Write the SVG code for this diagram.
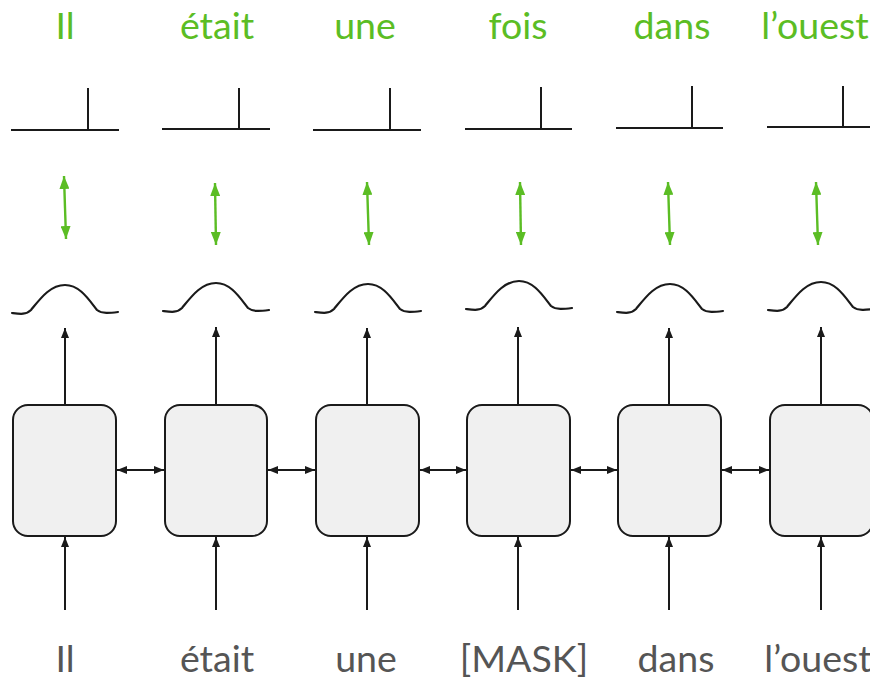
<svg xmlns="http://www.w3.org/2000/svg" width="870" height="679" viewBox="0 0 870 679">
  <style>
    .out { font-family: Lato, "Open Sans", sans-serif; font-size: 37.5px; fill: #5bbd24; text-anchor: middle; }
    .in { font-family: Lato, "Open Sans", sans-serif; font-size: 37.5px; fill: #555555; text-anchor: middle; }
    .cell { fill: #f0f0f0; stroke: #1a1a1a; stroke-width: 2; }
    .wire { stroke: #1a1a1a; stroke-width: 2; fill: none; }
    .step { stroke: #1a1a1a; stroke-width: 2; fill: none; }
    .curve { stroke: #1a1a1a; stroke-width: 2.2; fill: none; stroke-linecap: round; }
    .match { stroke: #5bbd24; stroke-width: 2.4; fill: none; }
  </style>
  <defs>
    <marker id="head" viewBox="0 0 10 10" refX="10" refY="5" markerWidth="10" markerHeight="10" markerUnits="userSpaceOnUse" orient="auto-start-reverse">
      <path d="M0,1 L10,5 L0,9 Z" fill="#1a1a1a"/>
    </marker>
    <marker id="ghead" viewBox="0 0 13 10" refX="13" refY="5" markerWidth="13" markerHeight="10" markerUnits="userSpaceOnUse" orient="auto-start-reverse">
      <path d="M0,0 L13,5 L0,10 Z" fill="#5bbd24"/>
    </marker>
    <path id="bump" d="M-53,0 C-45,1 -39,2 -34,-3 C-25,-14 -15,-28 0,-28 C15,-28 24,-13 32,-3 C37,1 45,0 53,-1"/>
  </defs>

  <!-- predicted tokens -->
  <g id="outputs">
    <text class="out" x="65" y="39">Il</text>
    <text class="out" x="217" y="39">était</text>
    <text class="out" x="365" y="39">une</text>
    <text class="out" x="518" y="39">fois</text>
    <text class="out" x="672" y="39">dans</text>
    <text class="out" x="815" y="39">l’ouest</text>
  </g>

  <!-- one-hot targets -->
  <g id="targets">
    <path class="step" d="M11,130 H119 M88,130 V88"/>
    <path class="step" d="M162,129 H270 M239,129 V88"/>
    <path class="step" d="M313,130 H421 M390,130 V88"/>
    <path class="step" d="M465,129 H572 M541,129 V87"/>
    <path class="step" d="M616,128 H723 M692,128 V86"/>
    <path class="step" d="M767,127 H870 M843,127 V86"/>
  </g>

  <!-- comparison between target and prediction -->
  <g id="compare">
    <line class="match" x1="64" y1="176" x2="66" y2="239" marker-start="url(#ghead)" marker-end="url(#ghead)"/>
    <line class="match" x1="215" y1="183" x2="216" y2="245" marker-start="url(#ghead)" marker-end="url(#ghead)"/>
    <line class="match" x1="367" y1="182" x2="369" y2="245" marker-start="url(#ghead)" marker-end="url(#ghead)"/>
    <line class="match" x1="520" y1="182" x2="521" y2="245" marker-start="url(#ghead)" marker-end="url(#ghead)"/>
    <line class="match" x1="668" y1="182" x2="670" y2="245" marker-start="url(#ghead)" marker-end="url(#ghead)"/>
    <line class="match" x1="816" y1="182" x2="818" y2="245" marker-start="url(#ghead)" marker-end="url(#ghead)"/>
  </g>

  <!-- predicted distributions -->
  <g id="distributions">
    <use href="#bump" class="curve" transform="translate(65,313)"/>
    <use href="#bump" class="curve" transform="translate(216,311)"/>
    <use href="#bump" class="curve" transform="translate(368,312)"/>
    <use href="#bump" class="curve" transform="translate(519,309)"/>
    <use href="#bump" class="curve" transform="translate(670,312)"/>
    <use href="#bump" class="curve" transform="translate(821,310)"/>
  </g>

  <!-- connectors -->
  <g id="connectors">
    <line class="wire" x1="65" y1="610" x2="65" y2="537" marker-end="url(#head)"/>
    <line class="wire" x1="216" y1="610" x2="216" y2="537" marker-end="url(#head)"/>
    <line class="wire" x1="367" y1="610" x2="367" y2="537" marker-end="url(#head)"/>
    <line class="wire" x1="518" y1="610" x2="518" y2="537" marker-end="url(#head)"/>
    <line class="wire" x1="669" y1="610" x2="669" y2="537" marker-end="url(#head)"/>
    <line class="wire" x1="821" y1="610" x2="821" y2="537" marker-end="url(#head)"/>

    <line class="wire" x1="65" y1="404" x2="65" y2="328" marker-end="url(#head)"/>
    <line class="wire" x1="216" y1="404" x2="216" y2="327" marker-end="url(#head)"/>
    <line class="wire" x1="367" y1="404" x2="367" y2="328" marker-end="url(#head)"/>
    <line class="wire" x1="518" y1="404" x2="518" y2="327" marker-end="url(#head)"/>
    <line class="wire" x1="669" y1="404" x2="669" y2="328" marker-end="url(#head)"/>
    <line class="wire" x1="821" y1="404" x2="821" y2="327" marker-end="url(#head)"/>

    <line class="wire" x1="117" y1="470" x2="164" y2="470" marker-start="url(#head)" marker-end="url(#head)"/>
    <line class="wire" x1="268" y1="470" x2="315" y2="470" marker-start="url(#head)" marker-end="url(#head)"/>
    <line class="wire" x1="420" y1="470" x2="466" y2="470" marker-start="url(#head)" marker-end="url(#head)"/>
    <line class="wire" x1="571" y1="470" x2="617" y2="470" marker-start="url(#head)" marker-end="url(#head)"/>
    <line class="wire" x1="722" y1="470" x2="769" y2="470" marker-start="url(#head)" marker-end="url(#head)"/>
  </g>

  <!-- encoder cells -->
  <g id="cell1"><rect class="cell" x="13" y="405" width="103" height="131" rx="15"/></g>
  <g id="cell2"><rect class="cell" x="165" y="405" width="102" height="131" rx="15"/></g>
  <g id="cell3"><rect class="cell" x="316" y="405" width="103" height="131" rx="15"/></g>
  <g id="cell4"><rect class="cell" x="467" y="405" width="103" height="131" rx="15"/></g>
  <g id="cell5"><rect class="cell" x="618" y="405" width="103" height="131" rx="15"/></g>
  <g id="cell6"><rect class="cell" x="770" y="405" width="103" height="131" rx="15"/></g>

  <!-- input tokens -->
  <g id="inputs">
    <text class="in" x="65" y="672">Il</text>
    <text class="in" x="217" y="672">était</text>
    <text class="in" x="366" y="672">une</text>
    <text class="in" x="524" y="672">[MASK]</text>
    <text class="in" x="676" y="672">dans</text>
    <text class="in" x="818" y="672">l’ouest</text>
  </g>
</svg>
